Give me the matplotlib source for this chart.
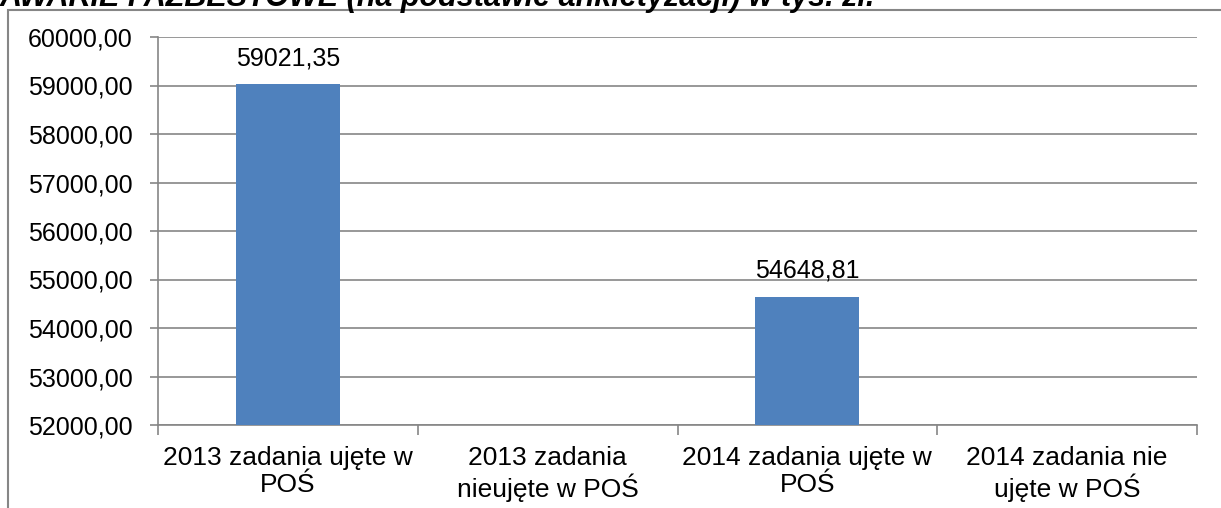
import matplotlib
matplotlib.use("Agg")
import matplotlib.pyplot as plt
from matplotlib.patches import Rectangle
from matplotlib.ticker import FuncFormatter, MultipleLocator

plt.rcParams['font.family'] = ['Liberation Sans', 'DejaVu Sans']

categories = ["2013 zadania ujęte w\nPOŚ", "2013 zadania\nnieujęte w POŚ",
              "2014 zadania ujęte w\nPOŚ", "2014 zadania nie\nujęte w POŚ"]
values = [59021.35, 0.0, 54648.81, 0.0]
title = "AWARIE I AZBESTOWE (na podstawie ankietyzacji) w tys. zł."

W, H = 1221, 508
fig = plt.figure(figsize=(W / 100, H / 100), dpi=100)
ax = fig.add_axes([158 / W, 1 - 425 / H, (1197 - 158) / W, (425 - 37) / H])

ymin, ymax = 52000, 60000
x = list(range(len(categories)))
bars = ax.bar(x, values, width=0.4, color='#4F81BD', zorder=3)
ax.set_xlim(-0.5, len(categories) - 0.5)
ax.set_ylim(ymin, ymax)
ax.yaxis.set_major_locator(MultipleLocator(1000))
ax.yaxis.set_major_formatter(FuncFormatter(lambda v, p: f"{v:.2f}".replace('.', ',')))
ax.grid(axis='y', color='#868686', linewidth=1.2, zorder=0)
ax.set_xticks([i - 0.5 for i in range(len(categories) + 1)])
ax.set_xticklabels([])
ax.set_xticks(x, minor=True)
ax.set_xticklabels(categories, minor=True, fontsize=19, linespacing=1.15)
ax.tick_params(axis='x', which='minor', length=0, pad=15)
ax.tick_params(axis='x', which='major', length=7, color='#868686', width=1.2)
ax.tick_params(axis='y', length=6, color='#868686', width=1.2, labelsize=18, pad=12)
for s in ['top', 'right']:
    ax.spines[s].set_visible(False)
for s in ['left', 'bottom']:
    ax.spines[s].set_color('#868686')
    ax.spines[s].set_linewidth(1.2)

for b, v in zip(bars, values):
    if ymin < v <= ymax:
        ax.annotate(f"{v:.2f}".replace('.', ','), (b.get_x() + b.get_width() / 2, v),
                    xytext=(0, 13.5), textcoords='offset points', ha='center', va='baseline',
                    fontsize=18)

fig.patches.append(Rectangle((8 / W, -0.1), 1.2, (1 - 10 / H) + 0.1, transform=fig.transFigure,
                             fill=False, edgecolor='#868686', linewidth=1.5))
fig.text(0, 1 - 6 / H, title, ha='left', va='baseline', fontsize=22,
         fontweight='bold', fontstyle='italic')

fig.savefig("out.png", dpi=100)
